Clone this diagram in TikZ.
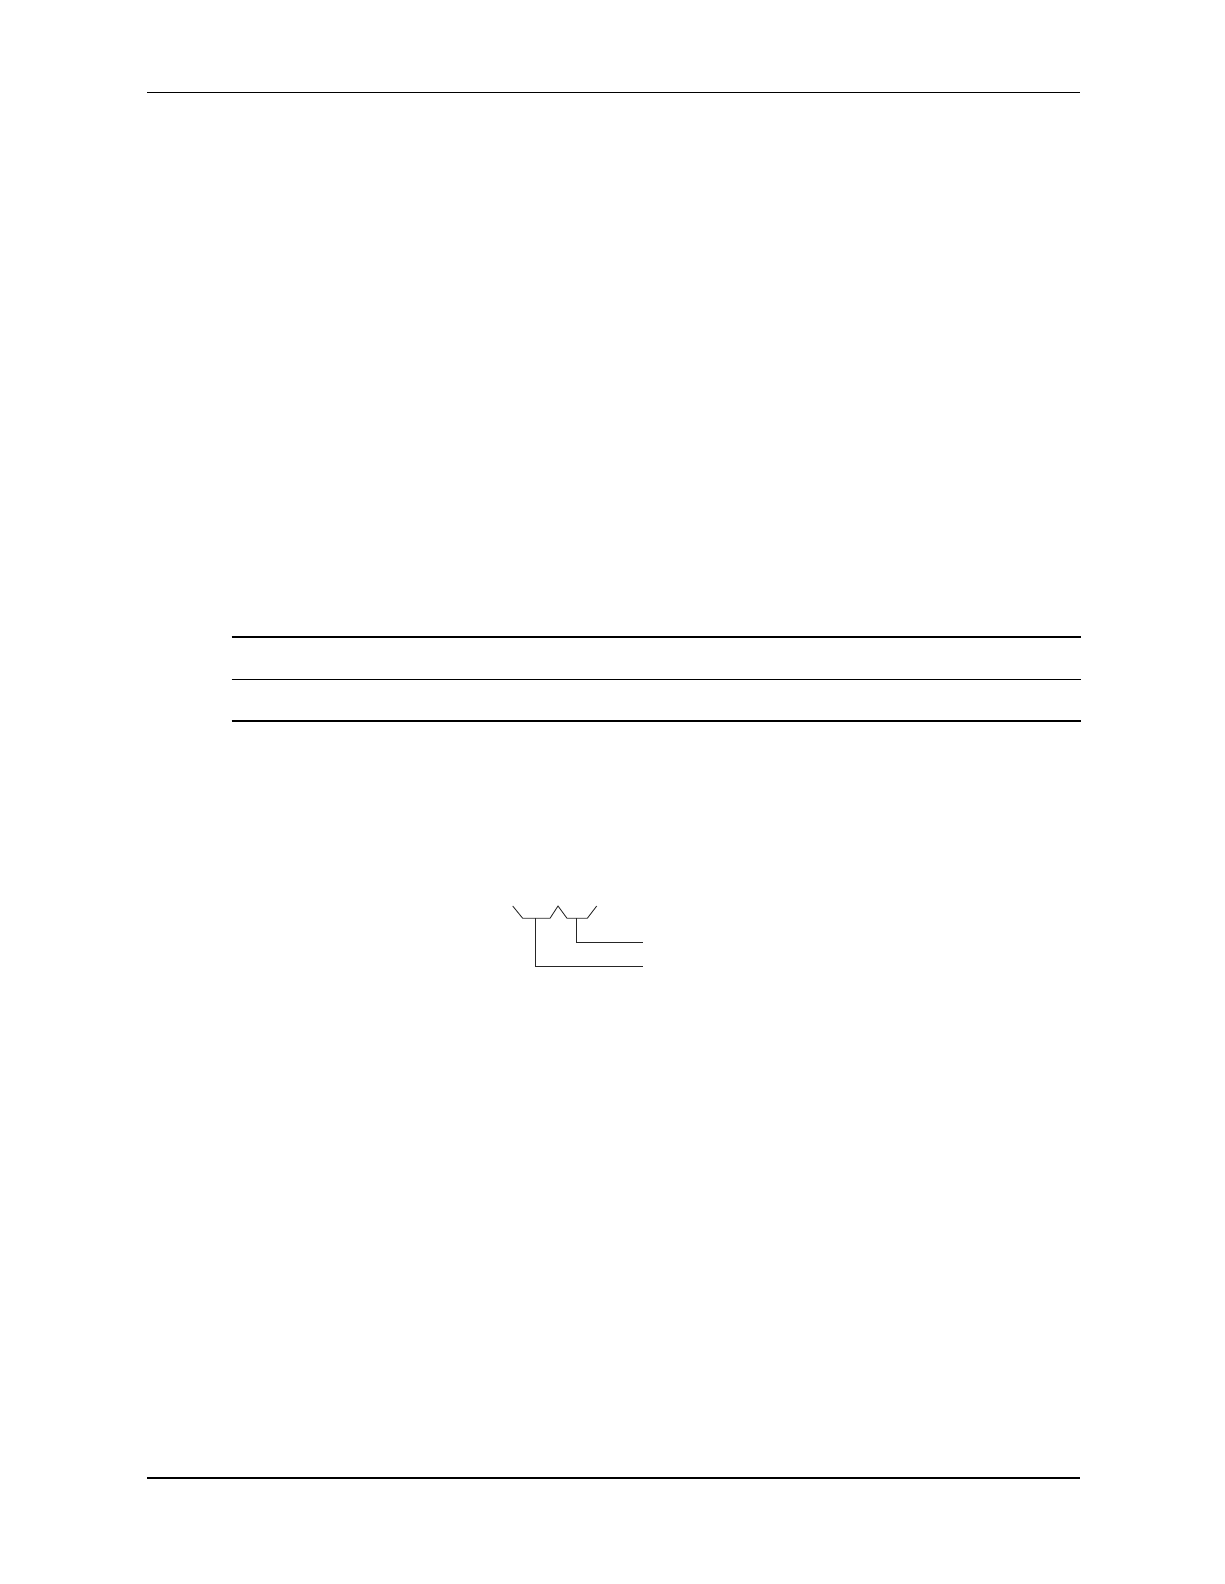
\documentclass[tikz,border=0pt]{standalone}
\begin{document}
\begin{tikzpicture}[x=0.05cm,y=-0.05cm,
  thin rule/.style={line width=1.5pt},
  thick rule/.style={line width=2.8pt},
  bracket/.style={line width=1.2pt, black!85, line join=miter}]
\useasboundingbox[fill=white] (0,0) rectangle (1224,1584);
% page header and footer rules
\draw[thin rule] (147,92.3) -- (1080,92.3);
\draw[thin rule] (147,1478) -- (1080,1478);
% table rules
\draw[thick rule] (231.5,636.7) -- (1080.5,636.7);
\draw[thin rule] (231.5,679.3) -- (1080.5,679.3);
\draw[thick rule] (231.5,720.7) -- (1080.5,720.7);
% bracket figure
\coordinate (a1) at (512.7,906);
\coordinate (a2) at (522.7,918.3);
\coordinate (a3) at (550,918.3);
\coordinate (a4) at (558,906);
\coordinate (a5) at (567,918.3);
\coordinate (a6) at (587.3,918.3);
\coordinate (a7) at (596.7,906);
\coordinate (b1) at (535.7,918.3);
\coordinate (b2) at (535.7,966.3);
\coordinate (b3) at (643.3,966.3);
\coordinate (c1) at (576.7,918.3);
\coordinate (c2) at (576.7,942);
\coordinate (c3) at (643.3,942);
\draw[bracket] (a1) -- (a2) -- (a3) -- (a4) -- (a5) -- (a6) -- (a7);
\draw[bracket] (b1) -- (b2) -- (b3);
\draw[bracket] (c1) -- (c2) -- (c3);
\end{tikzpicture}
\end{document}
